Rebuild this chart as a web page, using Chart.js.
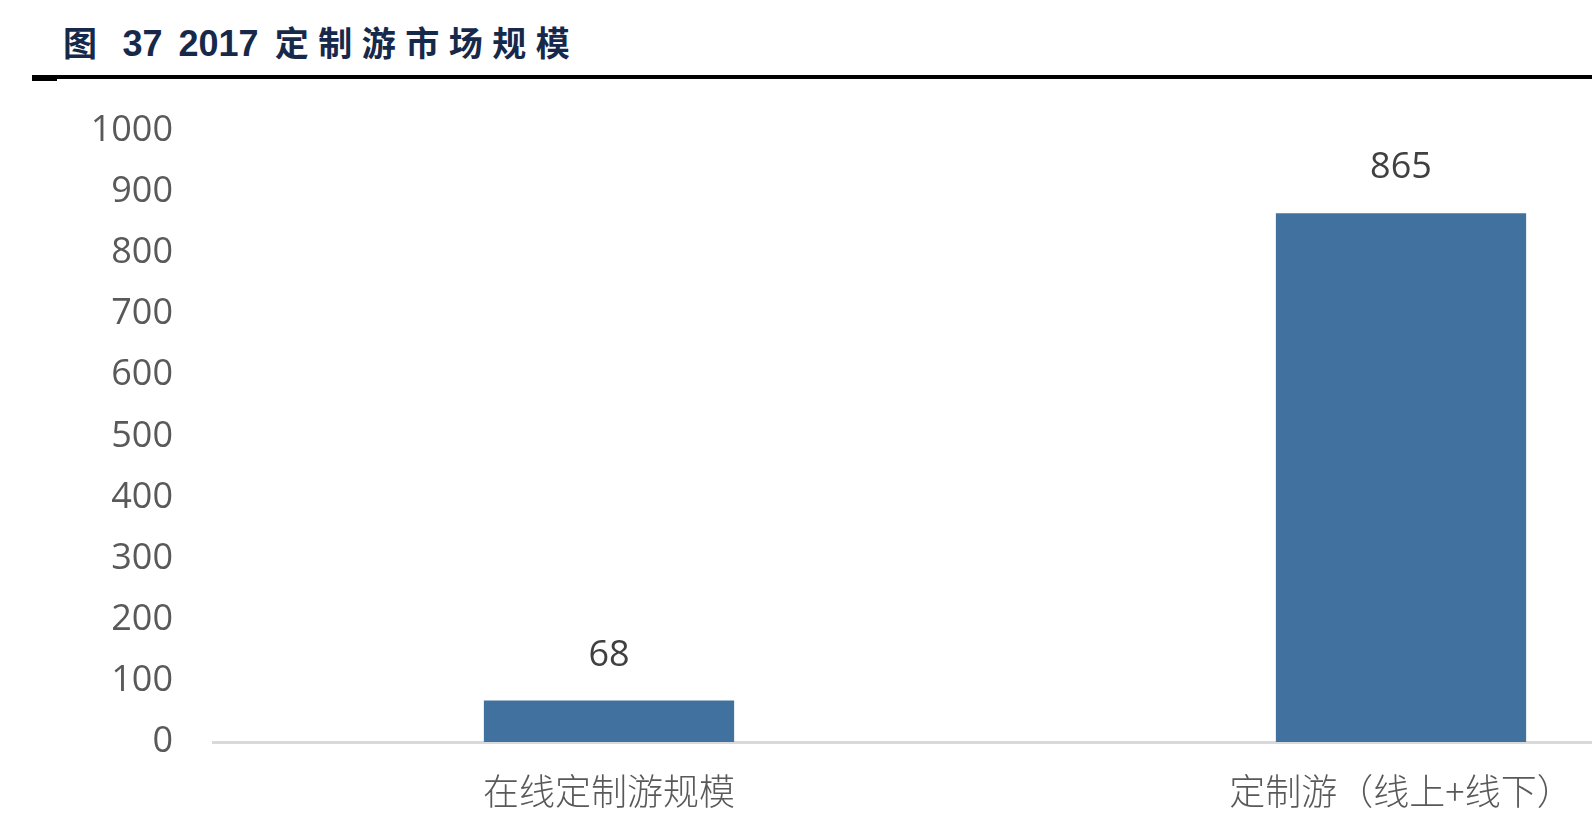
<!DOCTYPE html>
<html>
<head>
<meta charset="utf-8">
<script src="https://cdn.jsdelivr.net/npm/chart.js@4"></script>
<style>
	html, body { margin: 0; padding: 0; background: #fff; overflow: hidden; width: 1592px; height: 834px; }
	.title {
		position: absolute; left: 63px; top: 17px;
		font: bold 36px "Liberation Sans", "Noto Sans CJK SC", sans-serif;
		color: #17294a; white-space: nowrap; line-height: 50px; word-spacing: 6px;
	}
	.title .cjk { letter-spacing: 9.5px; font-family: "Noto Sans CJK SC", sans-serif; font-size: 34px; }
	.rule { position: absolute; left: 32px; top: 75px; width: 1560px; height: 4px; background: #000; }
	.stub { position: absolute; left: 32px; top: 77px; width: 25px; height: 4px; background: #000; }
	.chart { position: absolute; left: 0; top: 69px; width: 1810px; height: 765px; }
</style>
</head>
<body>
<div class="title"><span class="cjk">图</span> 37 2017 <span class="cjk">定制游市场规模</span></div>
<div class="rule"></div>
<div class="stub"></div>
<div class="chart"><canvas id="c"></canvas></div>
<script>
const categories = ["在线定制游规模", "定制游（线上+线下）"];
const values = [68, 865];
const yTicks = [0, 100, 200, 300, 400, 500, 600, 700, 800, 900, 1000];

const barColor = "#41729f";
const numFont = '"Open Sans", "Liberation Sans", sans-serif';

// value labels above each bar
const barLabels = {
	id: "barLabels",
	afterDatasetsDraw(chart) {
		const { ctx } = chart;
		ctx.save();
		ctx.font = `36px ${numFont}`;
		ctx.fillStyle = "#404040";
		ctx.textAlign = "center";
		ctx.textBaseline = "middle";
		chart.getDatasetMeta(0).data.forEach((bar, i) => {
			ctx.fillText(String(values[i]), bar.x, bar.y - 45);
		});
		ctx.restore();
	},
};

new Chart(document.getElementById("c"), {
	type: "bar",
	plugins: [barLabels],
	data: {
		labels: categories,
		datasets: [
			{
				data: values,
				backgroundColor: barColor,
				borderWidth: 0,
				categoryPercentage: 1,
				barPercentage: 0.316,
			},
		],
	},
	options: {
		responsive: true,
		maintainAspectRatio: false,
		animation: false,
		devicePixelRatio: 1,
		layout: { padding: { top: 0, right: 13, left: 0, bottom: 0 } },
		plugins: {
			legend: { display: false },
			tooltip: { enabled: false },
		},
		scales: {
			x: {
				grid: { display: false, drawTicks: false },
				border: { display: true, color: "#d9d9d9", width: 3 },
				ticks: {
					color: "#595959",
					padding: 28,
					maxRotation: 0,
					autoSkip: false,
					font: { family: '"Noto Sans CJK SC", sans-serif', size: 36, weight: 300 },
				},
				afterFit(scale) {
					scale.height = 92;
				},
			},
			y: {
				min: 0,
				max: 1000,
				afterBuildTicks(scale) {
					scale.ticks = yTicks.map(v => ({ value: v }));
				},
				grid: { display: false, drawTicks: false },
				border: { display: false },
				ticks: {
					color: "#595959",
					padding: 40,
					font: { family: numFont, size: 36 },
					callback: v => String(v),
				},
				afterFit(scale) {
					scale.width = 213;
				},
			},
		},
	},
});
</script>
</body>
</html>
